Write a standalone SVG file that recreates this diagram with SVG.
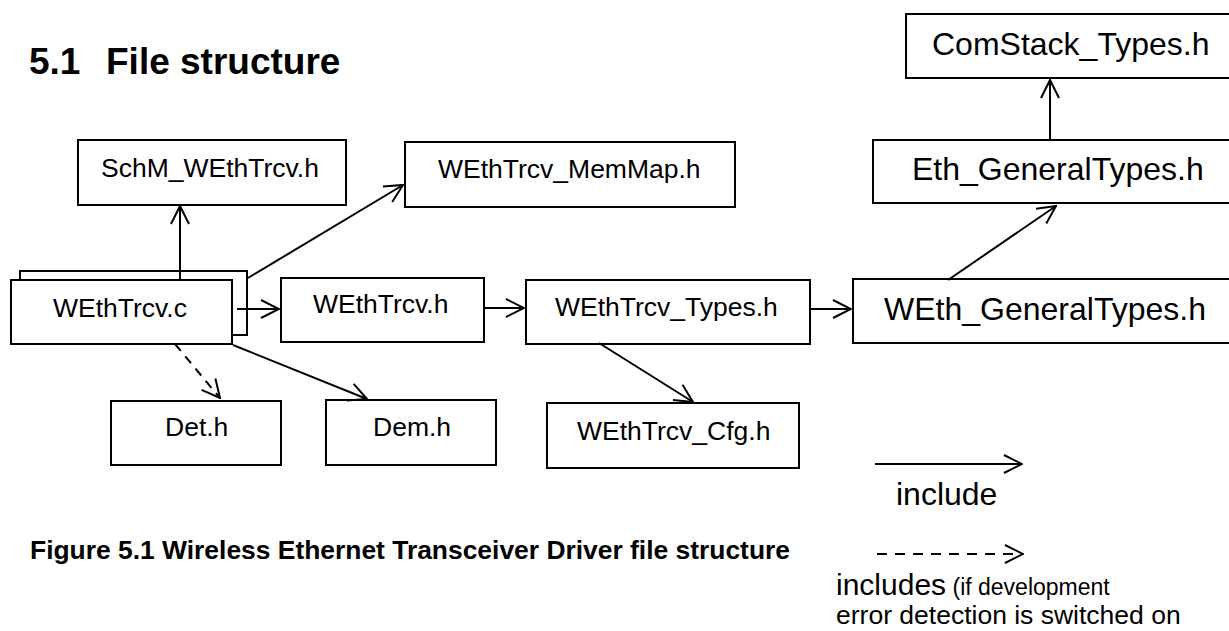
<svg xmlns="http://www.w3.org/2000/svg" width="1229" height="631" viewBox="0 0 1229 631">
<style>
  .box { fill: #fff; stroke: #000; stroke-width: 2; }
  .t { font-family: "Liberation Sans", Arial, sans-serif; font-size: 26.5px; fill: #000; }
  .tl { font-family: "Liberation Sans", Arial, sans-serif; font-size: 32px; fill: #000; }
  .h { font-family: "Liberation Sans", Arial, sans-serif; font-weight: bold; fill: #000; }
  .c { fill: none; stroke: #000; stroke-width: 2; marker-end: url(#arr); }
  .d { stroke-dasharray: 9 7; }
</style>
<defs>
  <marker id="arr" markerUnits="userSpaceOnUse" viewBox="0 0 20 20" refX="19" refY="10" markerWidth="20" markerHeight="20" orient="auto">
    <path d="M1,1 L19,10 L1,19" fill="none" stroke="#000" stroke-width="2"/>
  </marker>
</defs>
<rect width="1229" height="631" fill="#fff"/>
<text class="h" x="29" y="74" font-size="37">5.1</text>
<text class="h" x="106" y="74" font-size="37">File structure</text>

<g id="schm"><rect class="box" x="78" y="140" width="268" height="65"/><text class="t" x="101" y="177">SchM_WEthTrcv.h</text></g>
<g id="memmap"><rect class="box" x="405" y="142" width="330" height="65"/><text class="t" x="438" y="178">WEthTrcv_MemMap.h</text></g>
<g id="wethtrcv_c">
  <rect class="box" x="20" y="271" width="227" height="64"/>
  <rect class="box" x="11" y="280" width="221" height="64"/>
  <text class="t" x="53" y="317">WEthTrcv.c</text>
</g>
<g id="wethtrcv_h"><rect class="box" x="281" y="278" width="203" height="64"/><text class="t" x="313" y="313">WEthTrcv.h</text></g>
<g id="types"><rect class="box" x="526" y="280" width="284" height="64"/><text class="t" x="555" y="316">WEthTrcv_Types.h</text></g>
<g id="cfg"><rect class="box" x="547" y="403" width="252" height="65"/><text class="t" x="577" y="440">WEthTrcv_Cfg.h</text></g>
<g id="det"><rect class="box" x="111" y="401" width="170" height="64"/><text class="t" x="165" y="436">Det.h</text></g>
<g id="dem"><rect class="box" x="326" y="400" width="170" height="65"/><text class="t" x="373" y="436">Dem.h</text></g>
<g id="comstack"><rect class="box" x="906" y="14" width="340" height="64"/><text class="tl" x="932" y="55">ComStack_Types.h</text></g>
<g id="eth_general"><rect class="box" x="873" y="140" width="370" height="63"/><text class="tl" x="912" y="180">Eth_GeneralTypes.h</text></g>
<g id="weth_general"><rect class="box" x="853" y="279" width="390" height="64"/><text class="tl" x="884" y="320">WEth_GeneralTypes.h</text></g>

<g id="connectors">
  <path class="c" d="M180,280 L180,206"/>
  <path class="c" d="M248,278 L403,185"/>
  <path class="c" d="M237,309 L279,309"/>
  <path class="c" d="M484,308 L524,308"/>
  <path class="c" d="M811,309 L851,309"/>
  <path class="c" d="M599,343 L693,402"/>
  <path class="c" d="M948,280 L1056,206"/>
  <path class="c" d="M1050,140 L1050,80"/>
  <path class="c d" d="M175,344 L220,398"/>
  <path class="c" d="M233,345 L367,399"/>
</g>

<g id="legend">
  <path class="c" d="M875,464 L1022,464"/>
  <text class="tl" x="896" y="505" font-size="31">include</text>
  <path class="c" d="M877,554 L1023,554" stroke-dasharray="10 8"/>
  <text class="t" x="836" y="595"><tspan font-size="30">includes</tspan><tspan font-size="23"> (if development</tspan></text>
  <text class="t" x="836" y="624" font-size="22">error detection is switched on</text>
</g>

<text class="h" x="30" y="559" font-size="25" textLength="760" lengthAdjust="spacingAndGlyphs">Figure 5.1 Wireless Ethernet Transceiver Driver file structure</text>
</svg>
